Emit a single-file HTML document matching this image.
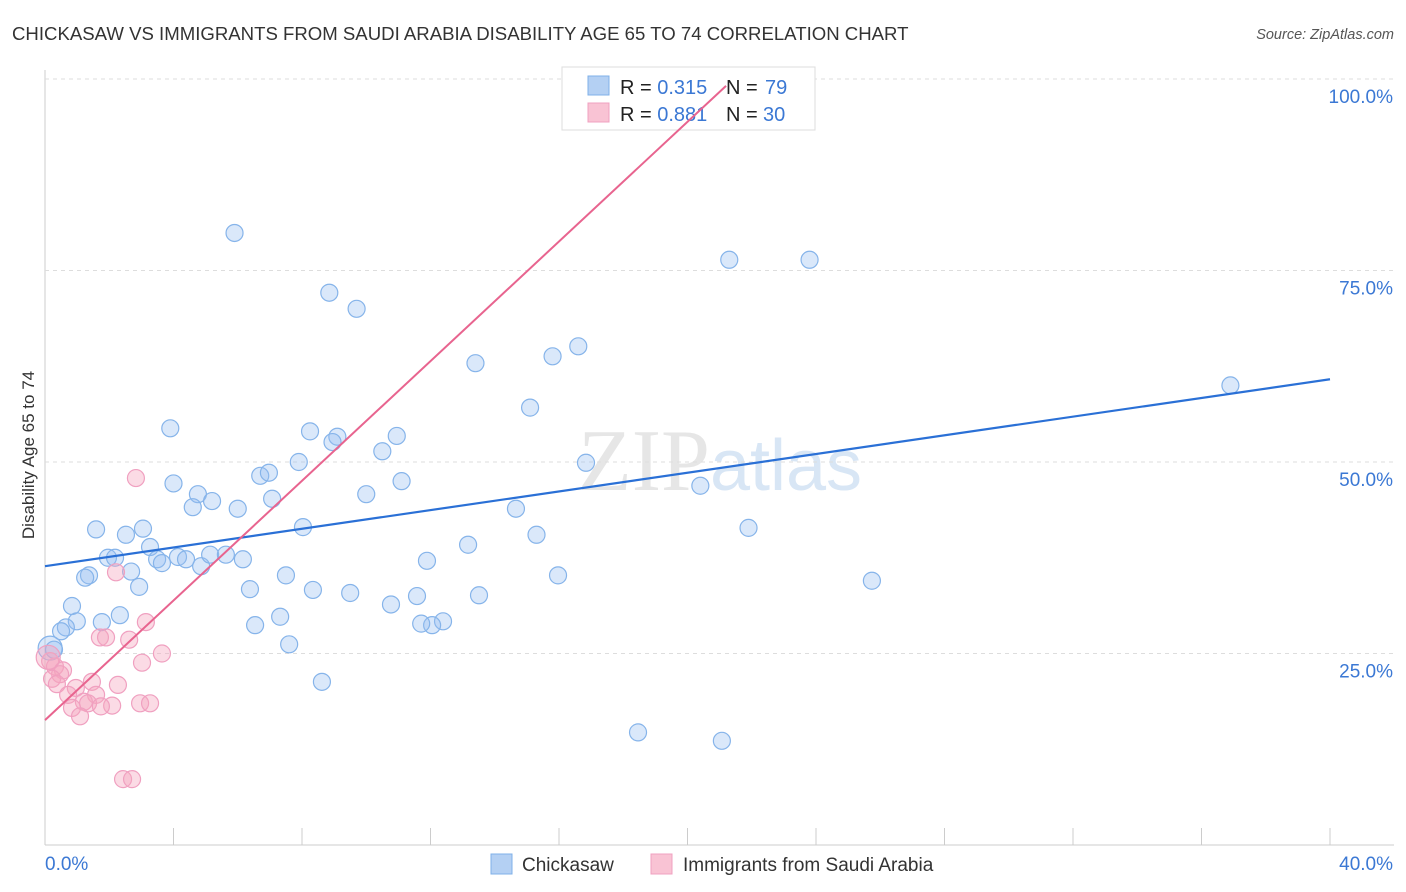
<!DOCTYPE html>
<html><head><meta charset="utf-8"><style>
body{margin:0;background:#fff;font-family:"Liberation Sans",sans-serif;}
svg{display:block}
</style></head><body>
<svg id="chart" width="1406" height="892">
<text x="12" y="40" font-size="18.6" fill="#333">CHICKASAW VS IMMIGRANTS FROM SAUDI ARABIA DISABILITY AGE 65 TO 74 CORRELATION CHART</text>
<text x="1394" y="39" font-size="14.5" font-style="italic" fill="#555" text-anchor="end">Source: ZipAtlas.com</text>
<text x="720" y="490" font-size="88" text-anchor="middle" fill="#e6e6e6" font-family="Liberation Serif,serif">ZIP<tspan fill="#d8e6f5" font-family="Liberation Sans,sans-serif" font-size="72">atlas</tspan></text>
<g id="grid"></g>
<g>
<rect x="562" y="67" width="253" height="63" fill="#fff" stroke="#ddd"/>
<rect x="588" y="76" width="21" height="19" fill="#b4d0f3" stroke="#7fb0e8"/>
<rect x="588" y="103" width="21" height="19" fill="#f9c3d4" stroke="#f0a0c0"/>
<text x="620" y="94" font-size="20" fill="#222">R = <tspan fill="#3b78d4">0.315</tspan></text>
<text x="726" y="94" font-size="20" fill="#222">N = <tspan fill="#3b78d4" x="765">79</tspan></text>
<text x="620" y="121" font-size="20" fill="#222">R = <tspan fill="#3b78d4">0.881</tspan></text>
<text x="726" y="121" font-size="20" fill="#222">N = <tspan fill="#3b78d4" x="763">30</tspan></text>
</g>
<g id="marks"></g>
<text transform="translate(34,455) rotate(-90)" font-size="17" fill="#333" text-anchor="middle">Disability Age 65 to 74</text>
<g>
<rect x="491" y="854" width="21" height="20" fill="#b4d0f3" stroke="#7fb0e8"/>
<text x="522" y="871" font-size="19" fill="#333">Chickasaw</text>
<rect x="651" y="854" width="21" height="20" fill="#f9c3d4" stroke="#f0a0c0"/>
<text x="683" y="871" font-size="19" fill="#333">Immigrants from Saudi Arabia</text>
</g>
</svg>
<script>
const xTicks=[0,4,8,12,16,20,24,28,32,36,40];
const yTicks=[25,50,75,100];
const blueX=[5.9,8.85,9.7,13.4,15.8,16.6,21.3,23.8,36.9,3.9,8.25,9.1,8.95,10.95,10.5,15.1,7.9,6.7,6.97,16.84,4.0,4.76,4.6,5.2,6.0,7.07,10.0,11.1,20.4,14.66,1.59,2.52,3.05,8.03,15.3,21.9,3.27,1.96,2.18,3.49,3.64,4.14,4.39,4.86,5.14,5.63,6.16,13.17,11.89,2.68,1.37,1.25,2.93,6.38,7.5,8.34,9.5,15.97,25.74,0.84,11.58,10.77,13.51,0.99,0.65,12.39,12.05,2.33,1.77,0.5,6.54,7.32,11.71,7.6,0.16,0.28,8.62,18.46,21.07];
const blueY=[79.9,72.1,70.0,62.9,63.8,65.1,76.4,76.4,60.0,54.4,54.0,53.3,52.6,53.4,51.4,57.1,50.0,48.2,48.6,49.9,47.2,45.8,44.1,44.9,43.9,45.2,45.8,47.5,46.9,43.9,41.2,40.5,41.3,41.5,40.5,41.4,38.9,37.5,37.5,37.3,36.8,37.6,37.3,36.4,37.9,37.9,37.3,39.2,37.1,35.7,35.2,34.9,33.7,33.4,35.2,33.3,32.9,35.2,34.5,31.2,32.5,31.4,32.6,29.2,28.4,29.2,28.7,30.0,29.1,27.9,28.7,29.8,28.9,26.2,25.7,25.5,21.3,14.7,13.6];
const pinkX=[2.83,2.21,3.14,1.71,1.9,2.62,3.64,3.02,0.16,0.31,0.56,0.47,0.22,0.37,1.46,0.96,2.27,0.72,1.59,1.21,1.34,0.84,2.09,2.96,1.74,1.09,3.27,2.43,2.71,0.1];
const pinkY=[47.9,35.6,29.1,27.1,27.1,26.8,25.0,23.8,24.0,23.3,22.8,22.3,21.7,21.0,21.3,20.5,20.9,19.6,19.6,18.7,18.5,17.9,18.2,18.5,18.1,16.8,18.5,8.6,8.6,24.5];
const blueLine=[[0,36.4],[40,60.8]];
const pinkLine=[[0,16.3],[21.2,99.1]];
const NS='http://www.w3.org/2000/svg';
const X0=45,X1=1330,Y0=845,Y100=79;
const sx=v=>X0+(X1-X0)*v/40, sy=v=>Y0-(Y0-Y100)*v/100;
const grid=document.getElementById('grid'),marks=document.getElementById('marks');
function mk(t,a,p){const e=document.createElementNS(NS,t);for(const k in a)e.setAttribute(k,a[k]);p.appendChild(e);return e;}
mk('line',{x1:X0,y1:70,x2:X0,y2:Y0,stroke:'#ccc'},grid);
mk('line',{x1:X0,y1:Y0,x2:1394,y2:Y0,stroke:'#ccc'},grid);
yTicks.forEach(t=>{const l=mk('line',{x1:X0,y1:sy(t),x2:1394,y2:sy(t),stroke:'#ddd','stroke-dasharray':'4,4'},grid);


const tx=mk('text',{x:1393,y:sy(t)+24,'font-size':19,fill:'#3b78d4','text-anchor':'end'},grid);tx.textContent=t.toFixed(1)+'%';

});
xTicks.forEach(t=>{const l=mk('line',{x1:sx(t),y1:828,x2:sx(t),y2:Y0,stroke:'#ccc'},grid);

});
[[0,'0.0%','start',45],[40,'40.0%','end',1393]].forEach(d=>{const tx=mk('text',{x:d[3],y:870,'font-size':19,fill:'#3b78d4','text-anchor':d[2]},grid);tx.textContent=d[1];

});
blueX.forEach((v,i)=>{const c=mk('circle',{cx:sx(v),cy:sy(blueY[i]),r:i==74?12:8.5,fill:'rgba(150,190,240,0.35)',stroke:'#86b4ea','stroke-width':1.2},marks);

});
pinkX.forEach((v,i)=>{const c=mk('circle',{cx:sx(v),cy:sy(pinkY[i]),r:i==pinkX.length-1?12:8.5,fill:'rgba(245,165,190,0.4)',stroke:'#f0a0c0','stroke-width':1.2},marks);

});
const bl=mk('line',{x1:sx(blueLine[0][0]),y1:sy(blueLine[0][1]),x2:sx(blueLine[1][0]),y2:sy(blueLine[1][1]),stroke:'#2a70d6','stroke-width':2.2},marks);


const pl=mk('line',{x1:sx(pinkLine[0][0]),y1:sy(pinkLine[0][1]),x2:sx(pinkLine[1][0]),y2:sy(pinkLine[1][1]),stroke:'#e8648f','stroke-width':2},marks);


</script>
</body></html>
